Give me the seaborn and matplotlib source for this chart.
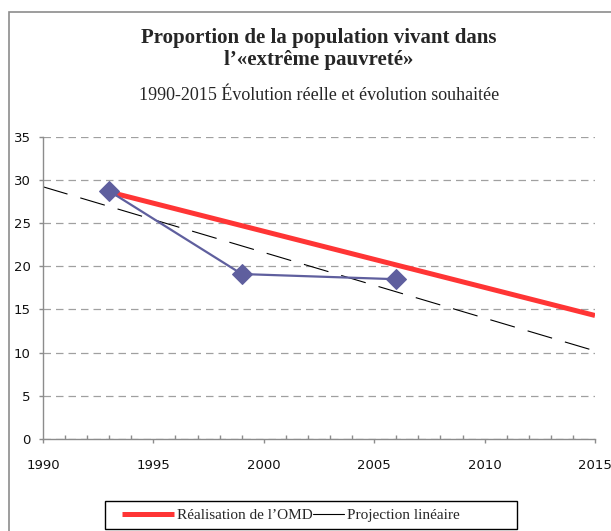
import matplotlib
matplotlib.use("Agg")
import matplotlib.pyplot as plt
import seaborn as sns
import pandas as pd
from matplotlib.lines import Line2D
from matplotlib.patches import Rectangle
from matplotlib.ticker import MultipleLocator
from matplotlib.legend_handler import HandlerLine2D

# Data
years_real = [1993, 1999, 2006]
pct_real = [28.7, 19.1, 18.5]
years_omd = [1993, 2015]
pct_omd = [28.6, 14.3]
years_proj = [1990, 2015]
pct_proj = [29.2, 10.2]
x_ticks = [1990, 1995, 2000, 2005, 2010, 2015]
y_ticks = [0, 5, 10, 15, 20, 25, 30, 35]
labels = ["Réalisation de l\u2019OMD", "Projection linéaire"]

RED = "#FF3535"
PURPLE = "#5F5F9E"
GREY = "#8C8C8C"
GRID = "#A0A0A0"
SERIF = ["Liberation Serif", "DejaVu Serif"]

sns.set_style("white")
plt.rcParams["font.family"] = ["DejaVu Sans"]

W, H = 611, 531
fig = plt.figure(figsize=(W / 100, H / 100), dpi=100)
ax = fig.add_axes([43 / W, (H - 439) / H, (595 - 43) / W, (439 - 136.7) / H])

df_real = pd.DataFrame({"year": years_real, "pct": pct_real})
df_omd = pd.DataFrame({"year": years_omd, "pct": pct_omd})
df_proj = pd.DataFrame({"year": years_proj, "pct": pct_proj})

sns.lineplot(data=df_proj, x="year", y="pct", ax=ax, color="black", lw=0.8)
ax.lines[-1].set_dashes((23, 12))
sns.lineplot(data=df_omd, x="year", y="pct", ax=ax, color=RED, lw=3.6,
             solid_capstyle="butt")
sns.lineplot(data=df_real, x="year", y="pct", ax=ax, color=PURPLE, lw=1.6,
             marker="D", markersize=10, markeredgecolor=PURPLE)

ax.set_xlim(1990, 2015)
ax.set_ylim(0, 35)
ax.set_xticks(x_ticks)
ax.set_yticks(y_ticks)
ax.xaxis.set_minor_locator(MultipleLocator(1))
ax.set_xlabel("")
ax.set_ylabel("")

ax.yaxis.grid(True, color=GRID, lw=0.9, linestyle=(0, (6, 4)))
ax.xaxis.grid(False)
ax.set_axisbelow(True)
for s in ["top", "right"]:
    ax.spines[s].set_visible(False)
for s in ["left", "bottom"]:
    ax.spines[s].set_color(GREY)
    ax.spines[s].set_linewidth(1.0)

ax.tick_params(axis="x", which="major", direction="out", length=3, width=1,
               color=GREY, pad=11.5, labelsize=9.5, labelcolor="#111111", bottom=True)
ax.tick_params(axis="x", which="minor", direction="in", length=3, width=1,
               color=GREY, bottom=True)
ax.tick_params(axis="y", which="major", direction="out", length=3, width=1,
               color=GREY, pad=6, labelsize=9.5, labelcolor="#111111", left=True)

# Titles
fig.text(319 / W, (H - 43) / H, "Proportion de la population vivant dans",
         ha="center", va="baseline", fontsize=15, fontweight="bold", family=SERIF)
fig.text(319 / W, (H - 65.5) / H, "l\u2019«extrême pauvreté»",
         ha="center", va="baseline", fontsize=15, fontweight="bold", family=SERIF)
fig.text(319 / W, (H - 100) / H, "1990-2015 Évolution réelle et évolution souhaitée",
         ha="center", va="baseline", fontsize=13, family=SERIF)

# Outer chart frame
fig.patches.append(Rectangle((9 / W, -0.1), 2, (H - 12) / H + 0.1,
                             transform=fig.transFigure, fill=False,
                             edgecolor=GREY, lw=1.2))


class LongLine(HandlerLine2D):
    def create_artists(self, legend, orig_handle, xdescent, ydescent, width,
                       height, fontsize, trans):
        ext = 1.4 * fontsize
        return super().create_artists(legend, orig_handle, xdescent + ext,
                                      ydescent, width + ext, height, fontsize, trans)


h_omd = Line2D([], [], color=RED, lw=3.6, solid_capstyle="butt")
h_proj = Line2D([], [], color="black", lw=0.8)
fig.legend([h_omd, h_proj], labels, loc="center left",
           bbox_to_anchor=(143 / W, (H - 515) / H), ncol=2, frameon=False,
           borderpad=0, borderaxespad=0, handlelength=2.0, handletextpad=0.2,
           columnspacing=0.05, prop={"family": SERIF, "size": 11},
           handler_map={h_omd: LongLine()})
fig.patches.append(Rectangle((105 / W, (H - 529) / H), 412 / W, 28 / H,
                             transform=fig.transFigure, fill=False,
                             edgecolor="black", lw=1.0))

fig.savefig("out.png", dpi=100)
